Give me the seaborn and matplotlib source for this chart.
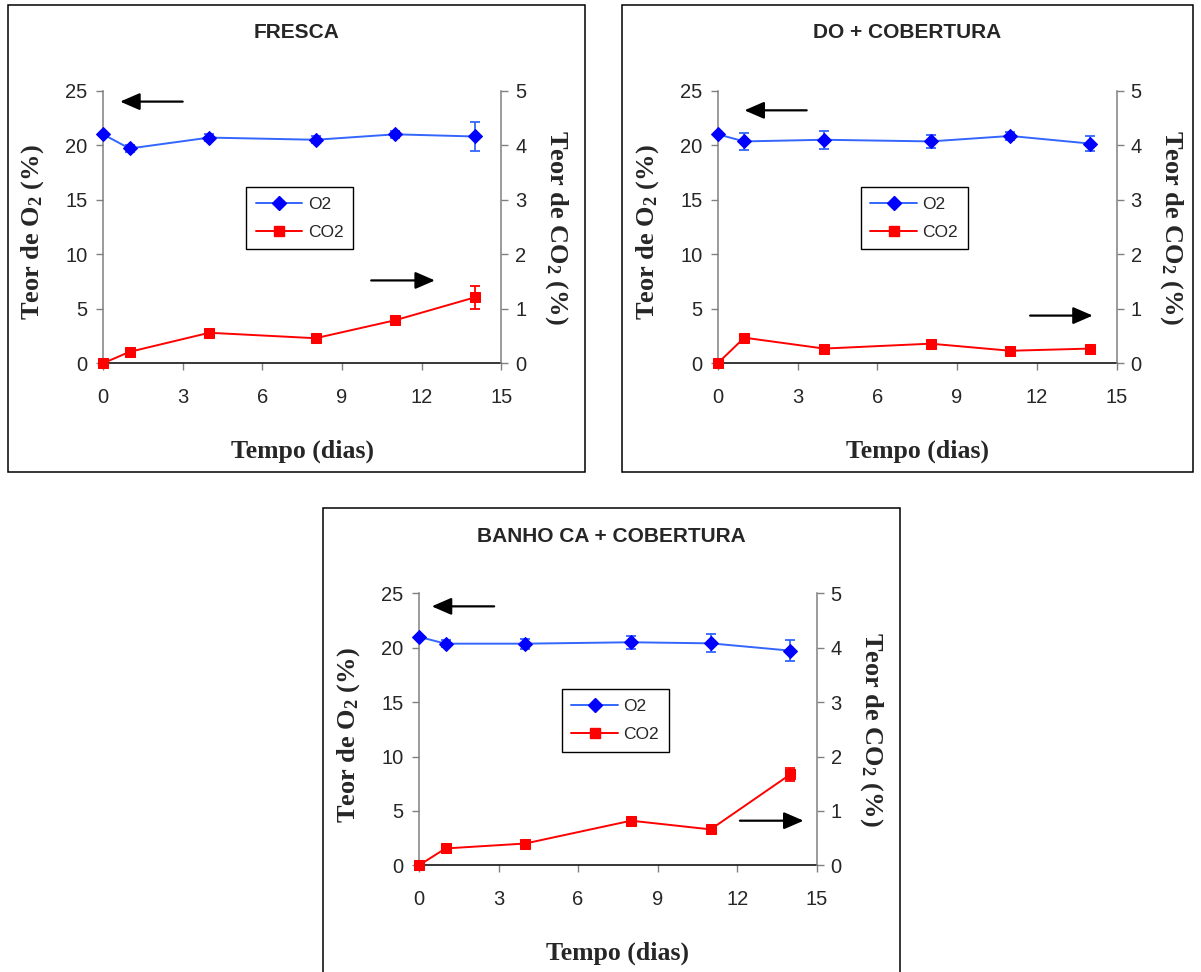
import numpy as np
import pandas as pd
import matplotlib
matplotlib.use("Agg")
import matplotlib.pyplot as plt
from matplotlib.patches import Rectangle
from matplotlib.lines import Line2D
import seaborn as sns

# ---------------- data ----------------
days = [0, 1, 4, 8, 11, 14]
x_ticks = [0, 3, 6, 9, 12, 15]
o2_ticks = [0, 5, 10, 15, 20, 25]
co2_ticks = [0, 1, 2, 3, 4, 5]

titles = ["FRESCA", "DO + COBERTURA", "BANHO CA + COBERTURA"]

fresca_o2 = [21.0, 19.7, 20.7, 20.5, 21.0, 20.8]
fresca_o2_err = [0.15, 0.3, 0.35, 0.3, 0.3, 1.3]
fresca_co2 = [0.0, 0.21, 0.56, 0.46, 0.79, 1.21]
fresca_co2_err = [0.0, 0.03, 0.04, 0.03, 0.05, 0.21]

do_o2 = [21.0, 20.35, 20.5, 20.35, 20.85, 20.15]
do_o2_err = [0.1, 0.8, 0.82, 0.58, 0.4, 0.72]
do_co2 = [0.0, 0.47, 0.27, 0.36, 0.23, 0.27]
do_co2_err = [0.0, 0.03, 0.02, 0.03, 0.02, 0.02]

ca_o2 = [21.0, 20.37, 20.37, 20.5, 20.4, 19.73]
ca_o2_err = [0.1, 0.34, 0.46, 0.58, 0.83, 0.97]
ca_co2 = [0.0, 0.31, 0.40, 0.82, 0.66, 1.67]
ca_co2_err = [0.0, 0.04, 0.04, 0.04, 0.04, 0.12]

series = [
    (fresca_o2, fresca_o2_err, fresca_co2, fresca_co2_err),
    (do_o2, do_o2_err, do_co2, do_co2_err),
    (ca_o2, ca_o2_err, ca_co2, ca_co2_err),
]

# ---------------- style ----------------
sns.set_style("white")
plt.rcParams["font.family"] = ["Liberation Sans", "DejaVu Sans"]
plt.rcParams["mathtext.fontset"] = "custom"
plt.rcParams["mathtext.rm"] = "Liberation Serif:bold"
plt.rcParams["mathtext.it"] = "Liberation Serif:bold"
plt.rcParams["mathtext.bf"] = "Liberation Serif:bold"

W, H = 1201, 972
fig = plt.figure(figsize=(W / 100, H / 100), dpi=100)

O2_LINE = "#3366FF"
O2_MARK = "#0000FF"
CO2_COL = "#FF0000"
GRAY = "#808080"

# layout in pixels: (panel box), (axes box), arrows in axes fraction
layouts = [
    dict(panel=(7.5, 5, 585, 472), axes=(103, 90.7, 501.5, 363.3),
         left_arrow=(0.20, 0.043, 0.96), right_arrow=(0.673, 0.833, 0.304)),
    dict(panel=(621.5, 5, 1193, 472), axes=(717.7, 90.7, 1116.7, 363.3),
         left_arrow=(0.223, 0.067, 0.928), right_arrow=(0.783, 0.94, 0.175)),
    dict(panel=(322.5, 508, 900, 975), axes=(419, 593.3, 816.7, 865.3),
         left_arrow=(0.189, 0.032, 0.952), right_arrow=(0.807, 0.967, 0.164)),
]


def fx(px):
    return px / W


def fy(py):
    return 1 - py / H


for title, (o2, o2e, co2, co2e), lay in zip(titles, series, layouts):
    x0, y0, x1, y1 = lay["panel"]
    fig.patches.append(Rectangle((fx(x0), fy(y1)), fx(x1 - x0), (y1 - y0) / H,
                                 transform=fig.transFigure, fill=False,
                                 edgecolor="black", lw=1.1, zorder=0))
    fig.text(fx((x0 + x1) / 2), fy(y0 + 28), title, ha="center", va="center",
             fontsize=15, fontweight="bold")

    a0, b0, a1, b1 = lay["axes"]
    ax = fig.add_axes([fx(a0), fy(b1), fx(a1 - a0), (b1 - b0) / H])
    ax2 = ax.twinx()
    ax.patch.set_alpha(0)
    ax2.patch.set_alpha(0)

    df = pd.DataFrame({"dia": days, "O2": o2, "O2_err": o2e,
                       "CO2": co2, "CO2_err": co2e})

    ax.errorbar(df["dia"], df["O2"], yerr=df["O2_err"], fmt="none",
                ecolor=O2_LINE, elinewidth=1.3, capsize=3.8, capthick=1.3,
                clip_on=False, zorder=2)
    sns.lineplot(data=df, x="dia", y="O2", ax=ax, color=O2_LINE, lw=1.4,
                 marker="D", markersize=7.2, markerfacecolor=O2_MARK,
                 markeredgecolor=O2_MARK, errorbar=None, clip_on=False,
                 zorder=3)

    ax2.errorbar(df["dia"], df["CO2"], yerr=df["CO2_err"], fmt="none",
                 ecolor=CO2_COL, elinewidth=1.3, capsize=3.8, capthick=1.3,
                 clip_on=False, zorder=2)
    sns.lineplot(data=df, x="dia", y="CO2", ax=ax2, color=CO2_COL, lw=1.4,
                 marker="s", markersize=7.5, markerfacecolor=CO2_COL,
                 markeredgecolor=CO2_COL, errorbar=None, clip_on=False,
                 zorder=3)

    ax.set_xlim(0, 15)
    ax.set_ylim(0, 25)
    ax2.set_ylim(0, 5)
    ax.set_xticks(x_ticks)
    ax.set_yticks(o2_ticks)
    ax2.set_yticks(co2_ticks)

    for a in (ax, ax2):
        for s in a.spines.values():
            s.set_visible(False)
    ax.spines["left"].set_visible(True)
    ax.spines["left"].set_color(GRAY)
    ax.spines["left"].set_linewidth(1.1)
    ax.spines["bottom"].set_visible(True)
    ax.spines["bottom"].set_color("black")
    ax.spines["bottom"].set_linewidth(1.1)
    ax2.spines["right"].set_visible(True)
    ax2.spines["right"].set_color(GRAY)
    ax2.spines["right"].set_linewidth(1.1)

    ax.tick_params(axis="x", direction="out", length=5, width=1.0,
                   color=GRAY, pad=13, labelsize=14.5, bottom=True)
    ax.tick_params(axis="y", direction="out", length=5, width=1.0,
                   color=GRAY, pad=6, labelsize=14.5, left=True)
    ax2.tick_params(axis="y", direction="out", length=5, width=1.0,
                    color=GRAY, pad=5, labelsize=14.5, right=True)

    ax.set_xlabel("Tempo (dias)", family="Liberation Serif",
                  fontweight="bold", fontsize=18.5)
    ax.xaxis.set_label_coords(0.5, -0.28)
    ax.set_ylabel("Teor de O$_2$ (%)", family="Liberation Serif",
                  fontweight="bold", fontsize=19)
    ax.yaxis.set_label_coords(-0.143, 0.48)
    ax2.set_ylabel("Teor de CO$_2$ (%)", family="Liberation Serif",
                   fontweight="bold", fontsize=19, rotation=-90, va="bottom")
    ax2.yaxis.set_label_coords(1.103, 0.5)

    # arrows pointing at the corresponding axis
    for (xs, xe, yy) in (lay["left_arrow"], lay["right_arrow"]):
        ax2.annotate("", xy=(xe, yy), xytext=(xs, yy),
                     xycoords="axes fraction", textcoords="axes fraction",
                     arrowprops=dict(arrowstyle="-|>,head_length=0.6,head_width=0.26",
                                     mutation_scale=20, lw=1.6, color="black",
                                     shrinkA=0, shrinkB=0))

    handles = [
        Line2D([], [], color=O2_LINE, lw=1.4, marker="D", markersize=7,
               markerfacecolor=O2_MARK, markeredgecolor=O2_MARK, label="O2"),
        Line2D([], [], color=CO2_COL, lw=1.4, marker="s", markersize=7,
               markerfacecolor=CO2_COL, markeredgecolor=CO2_COL, label="CO2"),
    ]
    leg = ax2.legend(handles=handles, loc="upper left",
                     bbox_to_anchor=(0.359, 0.647), borderaxespad=0,
                     fontsize=12.5, frameon=True, fancybox=False,
                     framealpha=1, edgecolor="black", handlelength=2.7,
                     borderpad=0.55, labelspacing=0.75, handletextpad=0.3)
    leg.get_frame().set_linewidth(1.0)

fig.savefig("out.png", dpi=100)
